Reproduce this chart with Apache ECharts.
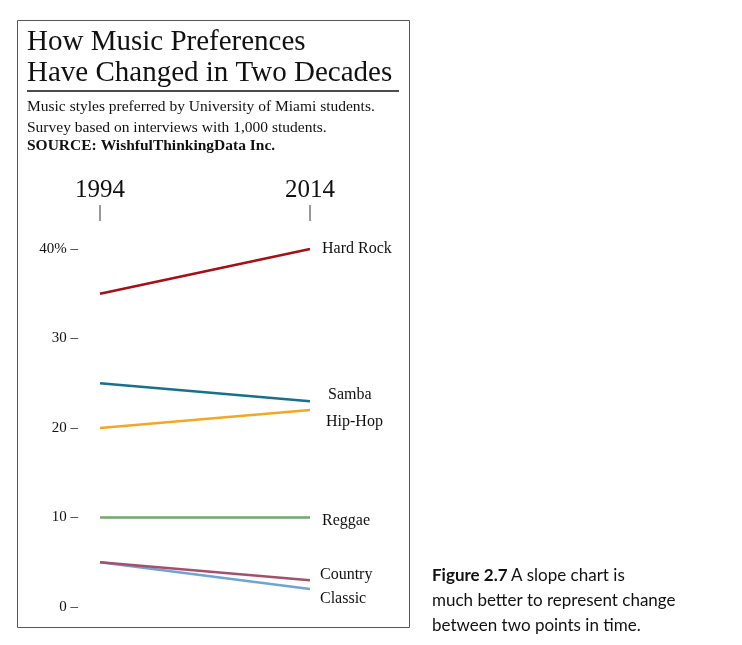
<!DOCTYPE html>
<html lang="en">
<head>
<meta charset="UTF-8">
<title>Slope chart</title>
<script src="https://cdn.jsdelivr.net/npm/echarts@6/dist/echarts.min.js"></script>
<style>body{margin:0;background:#fff}</style>
</head>
<body>
<div id="main" style="width:742px;height:645px;"></div>
<script type="text/javascript">
  // data
  var years = ['1994', '2014'];
  var styles = ['Hard Rock', 'Samba', 'Hip-Hop', 'Reggae', 'Country', 'Classic'];
  var hardRock = [35, 40];
  var samba = [25, 23];
  var hipHop = [20, 22];
  var reggae = [10, 10];
  var country = [5, 3];
  var classic = [5, 2];
  var yTicks = [0, 10, 20, 30, 40];

  var values = [hardRock, samba, hipHop, reggae, country, classic];
  var colors = ['#a50f15', '#17708c', '#f6a623', '#6fa86b', '#a5506a', '#6ea5d2'];
  var labelOffsets = [[4, 0], [10, -6], [8, 12], [4, 3], [2, -5], [2, 10]];
  var serif = 'Liberation Serif';

  var myChart = echarts.init(document.getElementById('main'));

  var series = styles.map(function (name, i) {
    return {
      name: name,
      type: 'line',
      data: values[i],
      symbol: 'none',
      z: 10 - i,
      lineStyle: { color: colors[i], width: 2.5 },
      endLabel: {
        show: true,
        formatter: name,
        fontFamily: serif,
        fontSize: 16,
        color: '#111',
        offset: labelOffsets[i]
      }
    };
  });

  var graphics = [
    { type: 'rect', shape: { x: 17.5, y: 20.5, width: 392, height: 607 },
      style: { fill: 'none', stroke: '#555', lineWidth: 1 } },
    { type: 'text', left: 27, top: 27,
      style: { text: 'How Music Preferences\nHave Changed in Two Decades', font: '29px ' + serif, lineHeight: 31, fill: '#111' } },
    { type: 'line', shape: { x1: 27, y1: 91, x2: 399, y2: 91 }, style: { stroke: '#111', lineWidth: 1.5 } },
    { type: 'text', left: 27, top: 96,
      style: { text: 'Music styles preferred by University of Miami students.\nSurvey based on interviews with 1,000 students.', font: '15.5px ' + serif, lineHeight: 21, fill: '#111' } },
    { type: 'text', left: 27, top: 138,
      style: { text: 'SOURCE: WishfulThinkingData Inc.', font: 'bold 15.5px ' + serif, fill: '#111' } },
    { type: 'text', left: 432, top: 563,
      style: { rich: { b: { font: 'bold 17px Lato', fill: '#111' }, n: { font: '17px Lato', fill: '#111' } },
        text: '{b|Figure 2.7} {n|A slope chart is}\n{n|much better to represent change}\n{n|between two points in time.}', lineHeight: 25 } }
  ];

  myChart.setOption({
    animation: false,
    grid: { left: 100, right: 432, top: 249, bottom: 38 },
    xAxis: {
      type: 'category',
      data: years,
      boundaryGap: false,
      position: 'top',
      axisLine: { show: false },
      axisTick: { show: false },
      axisLabel: { margin: 46, fontFamily: serif, fontSize: 25, color: '#111' },
      splitLine: { show: false }
    },
    yAxis: {
      type: 'value',
      min: 0,
      max: 40,
      interval: 10,
      axisLine: { show: false },
      axisTick: { show: false },
      splitLine: { show: false },
      axisLabel: {
        margin: 22,
        fontFamily: serif,
        fontSize: 15,
        color: '#111',
        formatter: function (v) {
          return yTicks.indexOf(v) < 0 ? '' : (v === 40 ? '40% –' : v + ' –');
        }
      }
    },
    series: series,
    graphic: graphics
  });

  // year tick marks under the top labels
  years.forEach(function (y) {
    var px = myChart.convertToPixel({ xAxisIndex: 0 }, y);
    graphics.push({ type: 'line', shape: { x1: px, y1: 205, x2: px, y2: 221 }, style: { stroke: '#333', lineWidth: 1 } });
  });
  myChart.setOption({ graphic: graphics });
</script>
</body>
</html>
